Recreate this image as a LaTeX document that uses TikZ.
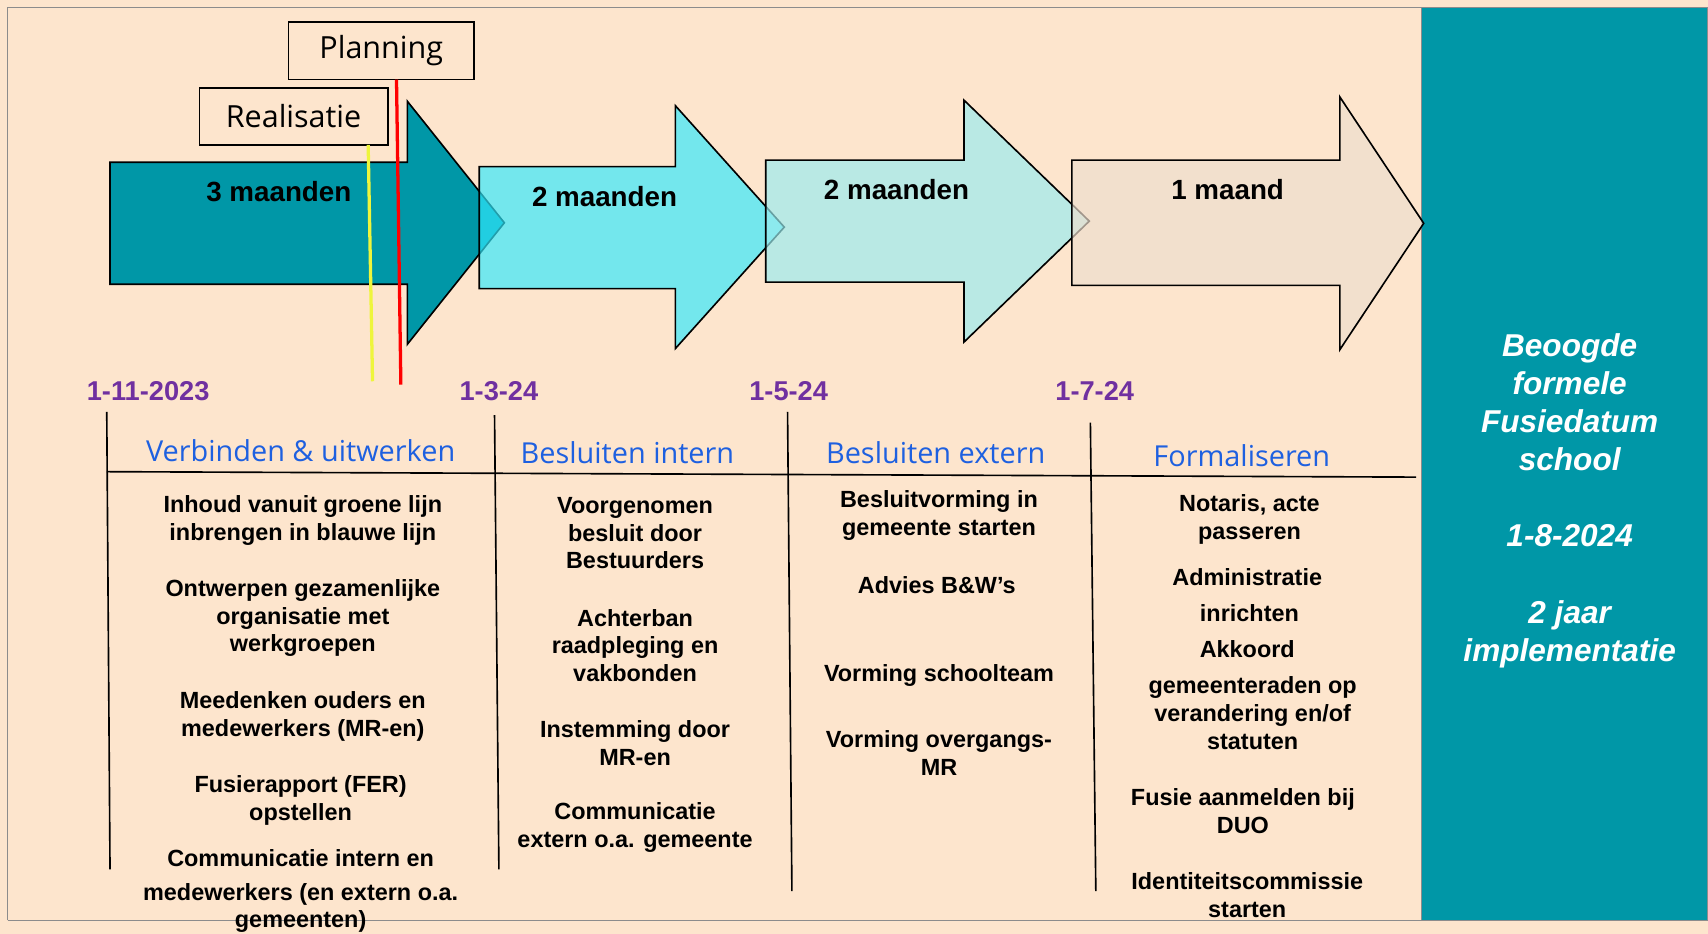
\documentclass[tikz,border=0pt]{standalone}
\usepackage{fontspec}
\setmainfont{Liberation Sans}
\newfontfamily\headfont{Open Sans}
\definecolor{peach}{RGB}{253,229,205}
\definecolor{fusieteal}{RGB}{0,151,167}
\definecolor{phasecyan}{RGB}{50,233,253}
\definecolor{phasemint}{RGB}{153,236,239}
\definecolor{phasesand}{RGB}{238,222,206}
\definecolor{datepurple}{RGB}{112,48,160}
\definecolor{headblue}{RGB}{30,96,224}
\definecolor{realyellow}{RGB}{238,245,60}
\definecolor{framegray}{RGB}{140,140,140}
\newcommand{\tikzPhaseArrow}[8]{
  \path[draw,line width=1.5pt,#1] (#2,#3) -- (#5,#3) -- (#5,#6) -- (#8,{(#6+#7)/2})
    -- (#5,#7) -- (#5,#4) -- (#2,#4) -- cycle;
}
\begin{document}
\begin{tikzpicture}[x=1pt, y=-1pt,
  phase/.style={font=\fontsize{25.5}{30}\selectfont\bfseries},
  datelabel/.style={text=datepurple, font=\fontsize{25}{30}\selectfont\bfseries},
  colhead/.style={text=headblue, font=\headfont\fontsize{26.5}{30}\selectfont},
  taskbox/.style={align=center, inner sep=0pt, font=\fontsize{21.5}{25.5}\selectfont\bfseries},
  markbox/.style={draw, line width=1.5pt, fill=peach, inner sep=0pt, font=\headfont\fontsize{28}{30}\selectfont},
  splitline/.style={line width=1.5pt}]
  \useasboundingbox (0,0) rectangle (1568,857);
  \fill[peach] (0,0) rectangle (1568,857);
  \draw[framegray, line width=1.5pt] (7,845) -- (7,7) -- (1305,7);
  \draw[framegray, line width=1.5pt] (7,845) -- (1305,845);
  \path[fill=fusieteal, draw=framegray, line width=1.5pt] (1305,7) rectangle (1568,845);

  % fasen
  \tikzPhaseArrow{fill=fusieteal}{101}{149}{261}{374}{93}{316}{463}
  \tikzPhaseArrow{fill=phasecyan, fill opacity=0.68}{440}{153}{265}{620}{97}{320}{720}
  \tikzPhaseArrow{fill=phasemint, fill opacity=0.68}{703}{147}{259}{885}{92}{314}{1000}
  \tikzPhaseArrow{fill=phasesand, fill opacity=0.68}{984}{147}{262}{1230}{89}{321}{1307}
  \node[phase] (drie) at (256,176) {3 maanden};
  \node[phase] (twee) at (555,180) {2 maanden};
  \node[phase] (tweeb) at (823,174) {2 maanden};
  \node[phase] (een) at (1127,174) {1 maand};

  % planning en realisatie
  \node[markbox, minimum width=170pt, minimum height=53pt] (plan) at (350,46.5) {\raisebox{-3pt}{Planning}\hspace{30pt}};
  \node[markbox, minimum width=173pt, minimum height=52pt] (real) at (269.5,107) {Realisatie\hspace{22pt}};
  \coordinate (realtop) at (338,133);
  \coordinate (realend) at (342,350);
  \coordinate (plantop) at (364,73);
  \coordinate (planend) at (368,353);
  \draw[realyellow, line width=3pt] (realtop) -- (realend);
  \draw[red, line width=3pt] (plantop) -- (planend);

  % data
  \node[datelabel] (d1) at (136,359) {1-11-2023};
  \node[datelabel] (d2) at (458,359) {1-3-24};
  \node[datelabel] (d3) at (724,359) {1-5-24};
  \node[datelabel] (d4) at (1005,359) {1-7-24};

  % kolommen
  \draw[splitline] (98,378) -- (101,798);
  \draw[splitline] (454,381) -- (458,798);
  \draw[splitline] (723,378) -- (727,818);
  \draw[splitline] (1001,388) -- (1006,818);
  \draw[splitline] (98,433) -- (1300,438);
  \node[colhead] (h1) at (276,414) {Verbinden \& uitwerken};
  \node[colhead] (h2) at (576,416) {Besluiten intern};
  \node[colhead] (h3) at (859,416) {Besluiten extern};
  \node[colhead] (h4) at (1140,418) {Formaliseren};

  \node[taskbox] (a1) at (278,477.5) {Inhoud vanuit groene lijn\\inbrengen in blauwe lijn};
  \node[taskbox] (a2) at (278,567.5) {Ontwerpen gezamenlijke\\organisatie met\\werkgroepen};
  \node[taskbox] (a3) at (278,657.5) {Meedenken ouders en\\medewerkers (MR-en)};
  \node[taskbox] (a4) at (276,734.5) {Fusierapport (FER)\\opstellen};
  \node[taskbox] (a5) at (276,788) {Communicatie intern en};
  \node[taskbox] (a6) at (276,833.5) {medewerkers (en extern o.a.\\gemeenten)};

  \node[taskbox] (b1) at (583,489.5) {Voorgenomen\\besluit door\\Bestuurders};
  \node[taskbox] (b2) at (583,592.5) {Achterban\\raadpleging en\\vakbonden};
  \node[taskbox] (b3) at (583,682.5) {Instemming door\\MR-en};
  \node[taskbox] (b4) at (583,759.5) {Communicatie\\extern o.a. gemeente};

  \node[taskbox] (c1) at (862,473) {Besluitvorming in\\gemeente starten};
  \node[taskbox] (c2) at (860,537) {Advies B\&W’s};
  \node[taskbox] (c3) at (862,620) {Vorming schoolteam};
  \node[taskbox] (c4) at (862,691.5) {Vorming overgangs-\\MR};

  \node[taskbox] (e1) at (1147,477) {Notaris, acte\\passeren};
  \node[taskbox] (e2) at (1145,530) {Administratie};
  \node[taskbox] (e3) at (1147,563) {inrichten};
  \node[taskbox] (e4) at (1145,596) {Akkoord};
  \node[taskbox] (e5) at (1150,654.5) {gemeenteraden op\\verandering en/of\\statuten};
  \node[taskbox] (e6) at (1141,744.5) {Fusie aanmelden bij\\DUO};
  \node[taskbox] (e7) at (1145,821.5) {Identiteitscommissie\\starten};

  % fusiedatum
  \node[align=center, text=white, font=\fontsize{29}{35}\selectfont\bfseries\itshape] (fusie) at (1441,459.5)
    {Beoogde\\formele\\Fusiedatum\\school\\[35pt]1-8-2024\\[35pt]2 jaar\\implementatie};
\end{tikzpicture}
\end{document}
